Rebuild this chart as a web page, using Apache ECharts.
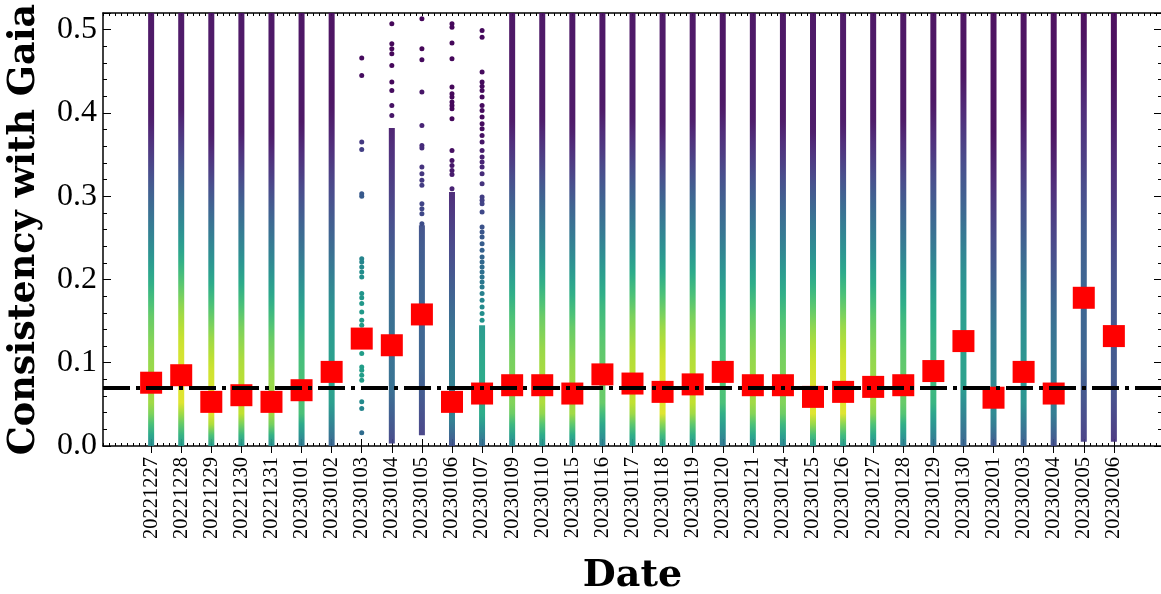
<!DOCTYPE html>
<html>
<head>
<meta charset="utf-8">
<script src="https://cdn.jsdelivr.net/npm/echarts@6.0.0/dist/echarts.min.js"></script>
<style>
html,body{margin:0;padding:0;background:#fff;}
#chart{width:1161px;height:594px;}
</style>
</head>
<body>
<div id="chart"></div>
<script>
// ---------------- data ----------------
const dates = ['20221227','20221228','20221229','20221230','20221231','20230101','20230102','20230103','20230104','20230105','20230106','20230107','20230109','20230110','20230115','20230116','20230117','20230118','20230119','20230120','20230121','20230124','20230125','20230126','20230127','20230128','20230129','20230130','20230201','20230203','20230204','20230205','20230206'];
const medians = [0.076,0.085,0.053,0.061,0.053,0.067,0.089,0.129,0.121,0.158,0.053,0.063,0.073,0.073,0.063,0.086,0.075,0.065,0.074,0.089,0.073,0.073,0.059,0.065,0.071,0.073,0.090,0.126,0.058,0.089,0.063,0.178,0.132];
// peak point density of each night (0..1 on the colour scale)
const densityPeak = [0.85,0.95,0.95,0.9,0.85,0.7,0.55,0.55,0.35,0.3,0.42,0.6,0.8,0.87,0.85,0.75,0.9,0.95,0.9,0.7,0.85,0.8,0.95,0.95,0.85,0.75,0.65,0.55,0.45,0.5,0.4,0.3,0.25];
// extent of the densely sampled part of each night's points
const denseLow  = [0,0,0,0,0,0,0,null,0.003,0.013,0,0,0,0,0,0,0,0,0,0,0,0,0,0,0,0,0,0,0,0,0,0.005,0.005];
const denseHigh = [0.52,0.52,0.52,0.52,0.52,0.52,0.52,null,0.382,0.265,0.305,0.145,0.52,0.52,0.52,0.52,0.52,0.52,0.52,0.52,0.52,0.52,0.52,0.52,0.52,0.52,0.52,0.52,0.52,0.52,0.52,0.52,0.52];
// individually visible points of the sparse nights
const dots20230103 = [0.466,0.445,0.365,0.356,0.303,0.300,0.225,0.221,0.215,0.209,0.203,0.183,0.178,0.171,0.161,0.151,0.145,0.137,0.111,0.095,0.091,0.085,0.079,0.053,0.045,0.016];
const dots20230104 = [0.507,0.483,0.477,0.471,0.457,0.437,0.427,0.409,0.397];
const dots20230105 = [0.513,0.477,0.464,0.425,0.385,0.361,0.358,0.335,0.327,0.319,0.313,0.291,0.285,0.279,0.267];
const dots20230106 = [0.507,0.503,0.484,0.465,0.431,0.423,0.419,0.413,0.409,0.405,0.393,0.355,0.343,0.337,0.331,0.326,0.309];
const dots20230107 = [0.499,0.491,0.449,0.437,0.432,0.427,0.419,0.409,0.403,0.395,0.387,0.381,0.373,0.365,0.355,0.347,0.341,0.335,0.327,0.315,0.299,0.295,0.291,0.281,0.263,0.257,0.251,0.243,0.235,0.227,0.221,0.215,0.209,0.203,0.197,0.191,0.183,0.175,0.167,0.159,0.151];
const refLevel = 0.074;
const yTicks = [0, 0.1, 0.2, 0.3, 0.4, 0.5];

// ---------------- style helpers ----------------
const VIR = ['#440154','#482475','#414487','#355f8d','#2a788e','#21918c','#22a884','#44bf70','#7ad151','#bddf26','#fde725'];
function hex(c){return [parseInt(c.slice(1,3),16),parseInt(c.slice(3,5),16),parseInt(c.slice(5,7),16)];}
function viridis(t){
  t=Math.max(0,Math.min(1,t));
  const p=t*10, k=Math.min(9,Math.floor(p)), f=p-k;
  const a=hex(VIR[k]), b=hex(VIR[k+1]);
  return 'rgb('+a.map((v,j)=>Math.round(v+(b[j]-v)*f)).join(',')+')';
}
// colour fade above the median (distance above median -> fraction of peak)
const SHAPE_D=[0,0.04,0.08,0.115,0.165,0.215,0.265,0.32,1], SHAPE_F=[1,0.97,0.88,0.74,0.53,0.37,0.2,0.05,0];
function shape(v,m){
  if(v<=m) return 0.55+0.45*Math.min(1,(v/m)/0.6);
  const d=v-m;
  for(let k=1;k<SHAPE_D.length;k++){
    if(d<=SHAPE_D[k]){const f=(d-SHAPE_D[k-1])/(SHAPE_D[k]-SHAPE_D[k-1]);return SHAPE_F[k-1]+(SHAPE_F[k]-SHAPE_F[k-1])*f;}
  }
  return 0;
}
function colourAt(i,v){return viridis(densityPeak[i]*shape(v,medians[i]));}

// ---------------- build series data ----------------
const catIdx = dates.map((d,i)=>i);
const strips = [];
dates.forEach((d,i)=>{ if(denseLow[i]!==null) strips.push([i,denseLow[i],denseHigh[i]]); });
const sparse = {'20230103':dots20230103,'20230104':dots20230104,'20230105':dots20230105,'20230106':dots20230106,'20230107':dots20230107};
const dotData = [];
Object.keys(sparse).forEach(k=>{const i=dates.indexOf(k); sparse[k].forEach(v=>dotData.push([i,v]));});
const medData = medians.map((m,i)=>[i,m]);

const XMIN=-1.6, XMAX=33.6;
const serif='Liberation Serif';
const boldSerif='DejaVu Serif';
const axLine={show:true,onZero:false,lineStyle:{color:'#000',width:1.5}};

const chart = echarts.init(document.getElementById('chart'),null,{renderer:'canvas'});
chart.setOption({
  animation:false,
  backgroundColor:'#fff',
  grid:{left:103,right:-1,top:13,bottom:148,containLabel:false,outerBoundsMode:'none'},
  xAxis:[
    {type:'value',position:'bottom',min:XMIN,max:XMAX,interval:0.2,
     axisLine:axLine,
     axisTick:{show:true,inside:true,length:3,lineStyle:{color:'#000',width:1}},
     axisLabel:{show:true,customValues:catIdx,formatter:v=>dates[Math.round(v)],rotate:90,
       fontFamily:serif,fontSize:20.5,color:'#000',margin:11},
     splitLine:{show:false},
     name:'Date',nameLocation:'middle',nameGap:111,
     nameTextStyle:{fontFamily:boldSerif,fontWeight:'bold',fontSize:38,color:'#000'}},
    {type:'value',position:'bottom',min:XMIN,max:XMAX,
     axisLine:{show:false},
     axisTick:{show:true,inside:true,length:7,customValues:catIdx,lineStyle:{color:'#000',width:1}},
     axisLabel:{show:false},splitLine:{show:false}},
    {type:'value',position:'top',min:XMIN,max:XMAX,interval:0.2,
     axisLine:axLine,
     axisTick:{show:true,inside:true,length:3,lineStyle:{color:'#000',width:1}},
     axisLabel:{show:false},splitLine:{show:false}},
    {type:'value',position:'top',min:XMIN,max:XMAX,
     axisLine:{show:false},
     axisTick:{show:true,inside:true,length:7,customValues:catIdx,lineStyle:{color:'#000',width:1}},
     axisLabel:{show:false},splitLine:{show:false}}
  ],
  yAxis:[
    {type:'value',position:'left',min:0,max:0.52,interval:0.1,
     axisLine:axLine,
     axisTick:{show:true,inside:true,length:8,lineStyle:{color:'#000',width:1}},
     minorTick:{show:true,splitNumber:5,length:4,lineStyle:{color:'#000',width:1}},
     axisLabel:{show:true,customValues:yTicks,formatter:v=>v.toFixed(1),fontFamily:serif,fontSize:32,color:'#000',margin:6},
     splitLine:{show:false},minorSplitLine:{show:false},
     name:'Consistency with Gaia',nameLocation:'middle',nameGap:60,
     nameTextStyle:{fontFamily:boldSerif,fontWeight:'bold',fontSize:36.5,color:'#000'}},
    {type:'value',position:'right',min:0,max:0.52,interval:0.1,
     axisLine:axLine,
     axisTick:{show:true,inside:true,length:8,lineStyle:{color:'#000',width:1}},
     minorTick:{show:true,splitNumber:5,length:4,lineStyle:{color:'#000',width:1}},
     axisLabel:{show:false},splitLine:{show:false}}
  ],
  series:[
    {type:'custom',xAxisIndex:0,yAxisIndex:0,z:1,clip:true,data:strips,encode:{x:0,y:[1,2]},
     renderItem:(params,api)=>{
       const i=api.value(0), lo=api.value(1), hi=api.value(2);
       const a=api.coord([i,lo]), b=api.coord([i,hi]);
       const stops=[]; const n=40;
       for(let k=0;k<=n;k++){const v=lo+(hi-lo)*k/n; stops.push({offset:k/n,color:colourAt(i,v)});}
       return {type:'rect',shape:{x:a[0]-3,y:b[1],width:6,height:a[1]-b[1]},
         style:{fill:new echarts.graphic.LinearGradient(0,1,0,0,stops),opacity:0.95}};
     }},
    {type:'scatter',xAxisIndex:0,yAxisIndex:0,z:1,data:dotData,symbol:'circle',symbolSize:5,
     itemStyle:{color:p=>colourAt(p.data[0],p.data[1]),opacity:1}},
    {type:'scatter',xAxisIndex:0,yAxisIndex:0,z:2,data:medData,symbol:'rect',symbolSize:22,
     itemStyle:{color:'#ff0000',opacity:1}},
    {type:'line',xAxisIndex:0,yAxisIndex:0,z:3,data:[],
     markLine:{silent:true,symbol:'none',label:{show:false},animation:false,
       lineStyle:{color:'#000',width:4,type:[27,6,4,6]},
       data:[{yAxis:refLevel}]}}
  ]
});
</script>
</body>
</html>
